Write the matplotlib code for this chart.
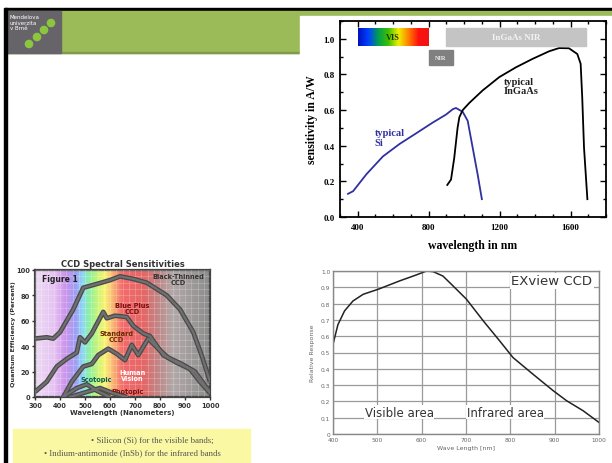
import numpy as np
import matplotlib
matplotlib.use("Agg")
import matplotlib.pyplot as plt
from matplotlib.colors import LinearSegmentedColormap
from matplotlib.patches import Rectangle, Circle
from matplotlib.ticker import MultipleLocator

W, H = 612, 464

# Sensibilidade tipica (A/W) - grafico superior direito
si_nm = [345, 374, 449, 542, 636, 730, 823, 898, 936, 954, 992, 1020, 1048, 1076, 1100]
si_aw = [0.13, 0.145, 0.24, 0.34, 0.41, 0.47, 0.53, 0.575, 0.605, 0.612, 0.59, 0.54, 0.39, 0.24, 0.10]
ingaas_nm = [905, 926, 944, 963, 973, 992, 1029, 1104, 1198, 1292, 1385, 1479, 1535, 1591, 1638, 1657, 1666, 1676, 1695]
ingaas_aw = [0.18, 0.21, 0.33, 0.50, 0.56, 0.60, 0.64, 0.71, 0.785, 0.84, 0.887, 0.93, 0.948, 0.947, 0.915, 0.86, 0.67, 0.39, 0.10]
ax1_ticks = [400, 800, 1200, 1600]

# Eficiencia quantica (%) - grafico inferior esquerdo
bt_nm = [300, 347, 373, 400, 453, 493, 547, 600, 640, 693, 747, 827, 880, 933, 968, 1000]
bt_qe = [46, 47, 46, 51, 69, 86, 89, 92, 95, 93, 90, 80, 69, 51, 32, 12]
bp_nm = [300, 347, 387, 427, 467, 480, 500, 527, 573, 587, 620, 667, 693, 733, 760, 813, 867, 920, 960, 1000]
bp_qe = [4, 12, 24, 30, 35, 47, 43, 50, 67, 62, 64, 63, 56, 50, 48, 33, 27, 22, 12, 3]
std_nm = [413, 447, 493, 527, 553, 593, 627, 660, 687, 713, 753, 793, 833, 887, 940, 980, 1000]
std_qe = [0, 12, 24, 26, 33, 38, 34, 29, 41, 33, 46, 38, 31, 26, 20, 9, 4]
scot_nm = [413, 467, 507, 547, 600]
scot_qe = [0, 7, 10, 5, 0]
phot_nm = [440, 507, 560, 613, 667]
phot_qe = [0, 4, 7, 3, 0]

# Resposta relativa EXview CCD - grafico inferior direito
ex_nm = [400, 411, 426, 445, 468, 502, 550, 588, 611, 626, 648, 671, 701, 739, 776, 806, 851, 897, 927, 964, 1000]
ex_rr = [0.55, 0.67, 0.755, 0.816, 0.857, 0.888, 0.939, 0.976, 1.0, 0.996, 0.969, 0.908, 0.827, 0.694,
         0.571, 0.469, 0.367, 0.265, 0.204, 0.143, 0.071]


def rect(x0, y0, x1, y1):
    return [x0 / W, 1 - y1 / H, (x1 - x0) / W, (y1 - y0) / H]


fig = plt.figure(figsize=(6.12, 4.64), dpi=100)

# fundo do slide (coordenadas em pixels)
bg = fig.add_axes([0, 0, 1, 1])
bg.set_xlim(0, W)
bg.set_ylim(H, 0)
bg.axis("off")
bg.add_patch(Rectangle((5, 9), W, 3, color="black"))
bg.add_patch(Rectangle((7, 12), W, 42, color="#9bbb59"))
bg.add_patch(Rectangle((7, 53), W, 1, color="#7f9a48"))
bg.add_patch(Rectangle((7, 12), 54, 42, color="#666469"))
bg.add_patch(Rectangle((4, 9), 3, H, color="black"))
for cx, cy in [(51, 24), (44, 31), (37, 38), (29, 45)]:
    bg.add_patch(Circle((cx, cy), 3.6, color="#8cc63e"))
bg.text(10, 15, "Mendelova\nuniverzita\nv Brně", color="white", fontsize=4,
        va="top", ha="left", linespacing=1.15)
bg.add_patch(Rectangle((300, 17), W - 300, 240, color="white"))
bg.add_patch(Rectangle((13, 430), 237, 33, color="#faf8a2"))
bg.text(152, 440, "• Silicon (Si) for the visible bands;", family="Liberation Serif",
        fontsize=6.3, color="#555555", ha="center", va="center")
bg.text(132, 453, "• Indium-antimonide (InSb) for the infrared bands", family="Liberation Serif",
        fontsize=6.3, color="#555555", ha="center", va="center")

# ---- grafico superior direito: Si vs InGaAs
serif = "Liberation Serif"
ax1 = fig.add_axes(rect(340, 22, 606, 218))
vis_cmap = LinearSegmentedColormap.from_list(
    "vis", ["#0010c0", "#0040ff", "#00a050", "#40c000", "#f0f000", "#ff8000", "#ff1010", "#ee1515"])
ax1.imshow(np.linspace(0, 1, 200)[None, :], cmap=vis_cmap, aspect="auto",
           extent=(400, 800, 0.96, 1.06), zorder=2)
ax1.plot(si_nm, si_aw, color="#3030a0", lw=1.3)
ax1.plot(ingaas_nm, ingaas_aw, color="black", lw=1.3)
ax1.set_xticks(ax1_ticks, [str(t) for t in ax1_ticks], family=serif, fontweight="bold")
ax1.set_yticks([0, 0.2, 0.4, 0.6, 0.8, 1.0], ["0.0", "0.2", "0.4", "0.6", "0.8", "1.0"],
               family=serif, fontweight="bold")
ax1.xaxis.set_minor_locator(MultipleLocator(100))
ax1.yaxis.set_minor_locator(MultipleLocator(0.1))
ax1.set_xlim(300, 1800)
ax1.set_ylim(0, 1.1)
ax1.tick_params(which="both", direction="in", top=True, right=True, width=1)
ax1.tick_params(which="major", length=4, labelsize=6.5, pad=4)
ax1.tick_params(which="minor", length=2.5)
for s in ax1.spines.values():
    s.set_linewidth(1.3)
ax1.set_xlabel("wavelength in nm", family=serif, fontweight="bold", fontsize=8.5, labelpad=6)
ax1.set_ylabel("sensitivity in A/W", family=serif, fontweight="bold", fontsize=8.5, labelpad=4)
ax1.text(600, 1.01, "VIS", family=serif, fontweight="bold", fontsize=6, color="#223300",
         ha="center", va="center", zorder=3)
ax1.add_patch(Rectangle((800, 0.855), 140, 0.085, color="#808080", zorder=2))
ax1.text(870, 0.897, "NIR", family=serif, fontweight="bold", fontsize=4.5, color="#eeeeee",
         ha="center", va="center", zorder=3)
ax1.add_patch(Rectangle((900, 0.96), 790, 0.10, color="#c4c4c4", zorder=2))
ax1.text(1295, 1.01, "InGaAs NIR", family=serif, fontweight="bold", fontsize=6.5, color="#f2f2f2",
         ha="center", va="center", zorder=3)
ax1.text(1225, 0.735, "typical\nInGaAs", family=serif, fontweight="bold", fontsize=7.5,
         color="#222222", ha="left", va="center", linespacing=1.1)
ax1.text(495, 0.445, "typical\nSi", family=serif, fontweight="bold", fontsize=7.5,
         color="#3030a0", ha="left", va="center", linespacing=1.1)

# ---- grafico inferior esquerdo: CCD Spectral Sensitivities
ax2 = fig.add_axes(rect(35, 271, 210, 398))
spec_cmap = LinearSegmentedColormap.from_list("spec", [
    (0.0, (0.93, 0.86, 0.95)), (0.11, (0.90, 0.76, 0.95)), (0.17, (0.80, 0.58, 0.92)),
    (0.23, (0.62, 0.62, 0.96)), (0.27, (0.55, 0.85, 0.96)), (0.31, (0.55, 0.95, 0.62)),
    (0.37, (0.85, 0.96, 0.45)), (0.40, (0.98, 0.95, 0.45)), (0.44, (0.98, 0.74, 0.45)),
    (0.50, (0.95, 0.42, 0.42)), (0.62, (0.90, 0.40, 0.40)), (0.70, (0.76, 0.52, 0.52)),
    (0.79, (0.70, 0.66, 0.66)), (1.0, (0.55, 0.55, 0.55))])
ax2.imshow(np.linspace(0, 1, 300)[None, :], cmap=spec_cmap, aspect="auto",
           extent=(300, 1000, 0, 100), zorder=0)
ax2.set_xlim(300, 1000)
ax2.set_ylim(0, 100)
ax2.xaxis.set_major_locator(MultipleLocator(100))
ax2.yaxis.set_major_locator(MultipleLocator(20))
ax2.xaxis.set_minor_locator(MultipleLocator(25))
ax2.yaxis.set_minor_locator(MultipleLocator(5))
ax2.grid(which="both", color="white", lw=0.4, alpha=0.35)
ax2.set_axisbelow(False)
for xs, ys in [(bt_nm, bt_qe), (bp_nm, bp_qe), (std_nm, std_qe), (scot_nm, scot_qe), (phot_nm, phot_qe)]:
    ax2.plot(xs, ys, color="#4a4a4a", lw=3.4, solid_capstyle="butt", zorder=3)
    ax2.plot(xs, ys, color="#707070", lw=1.6, zorder=4)
ax2.tick_params(which="major", length=2.5, width=1, labelsize=4.8, pad=1, colors="#333333")
ax2.tick_params(which="minor", length=0)
for lab in ax2.get_xticklabels() + ax2.get_yticklabels():
    lab.set_fontweight("bold")
for s in ax2.spines.values():
    s.set_linewidth(1.6)
    s.set_color("#444444")
ax2.set_title("CCD Spectral Sensitivities", fontsize=6, fontweight="bold", color="#333333", pad=3)
ax2.set_xlabel("Wavelength (Nanometers)", fontsize=5, fontweight="bold", color="#333333", labelpad=1)
ax2.set_ylabel("Quantum Efficiency (Percent)", fontsize=4.6, fontweight="bold", color="#333333", labelpad=0.5)
ax2.text(327, 93, "Figure 1", fontsize=5.5, fontweight="bold", color="#222222", va="center")
ax2.text(872, 93, "Black-Thinned\nCCD", fontsize=4.8, fontweight="bold", color="#333333",
         ha="center", va="center", linespacing=1.0)
ax2.text(690, 70, "Blue Plus\nCCD", fontsize=4.8, fontweight="bold", color="#7a1010",
         ha="center", va="center", linespacing=1.0)
ax2.text(625, 48, "Standard\nCCD", fontsize=4.8, fontweight="bold", color="#6a2a00",
         ha="center", va="center", linespacing=1.0)
ax2.text(545, 14, "Scotopic", fontsize=4.8, fontweight="bold", color="#0d5a50",
         ha="center", va="center")
ax2.text(690, 17, "Human\nVision", fontsize=4.8, fontweight="bold", color="white",
         ha="center", va="center", linespacing=1.0)
ax2.text(672, 5, "Photopic", fontsize=4.8, fontweight="bold", color="#7a1010",
         ha="center", va="center")

# ---- grafico inferior direito: EXview CCD
ax3 = fig.add_axes(rect(333, 272, 599, 435))
ax3.plot(ex_nm, ex_rr, color="#222222", lw=1.1)
ax3.set_xlim(400, 1000)
ax3.set_ylim(0, 1.0)
ax3.set_xticks(range(400, 1001, 100))
ax3.set_yticks(np.arange(0, 1.01, 0.1))
ax3.set_yticklabels(["0", "0.1", "0.2", "0.3", "0.4", "0.5", "0.6", "0.7", "0.8", "0.9", "1.0"])
ax3.grid(color="#9a9a9a", lw=0.9)
ax3.tick_params(length=0, labelsize=4.2, colors="#666666", pad=2)
for s in ax3.spines.values():
    s.set_color("#888888")
    s.set_linewidth(1)
ax3.set_xlabel("Wave Length [nm]", fontsize=4.5, color="#666666", labelpad=2)
ax3.set_ylabel("Relative Response", fontsize=4.5, color="#666666", labelpad=4)
ax3.text(985, 0.94, "EXview CCD", fontsize=9.5, color="#333333", ha="right", va="center",
         bbox=dict(facecolor="white", edgecolor="none", pad=1))
ax3.text(472, 0.113, "Visible area", fontsize=8.5, color="#333333", va="baseline",
         bbox=dict(facecolor="white", edgecolor="none", pad=0.3))
ax3.text(702, 0.113, "Infrared area", fontsize=8.5, color="#333333", va="baseline",
         bbox=dict(facecolor="white", edgecolor="none", pad=0.3))

fig.savefig("out.png", dpi=100)
